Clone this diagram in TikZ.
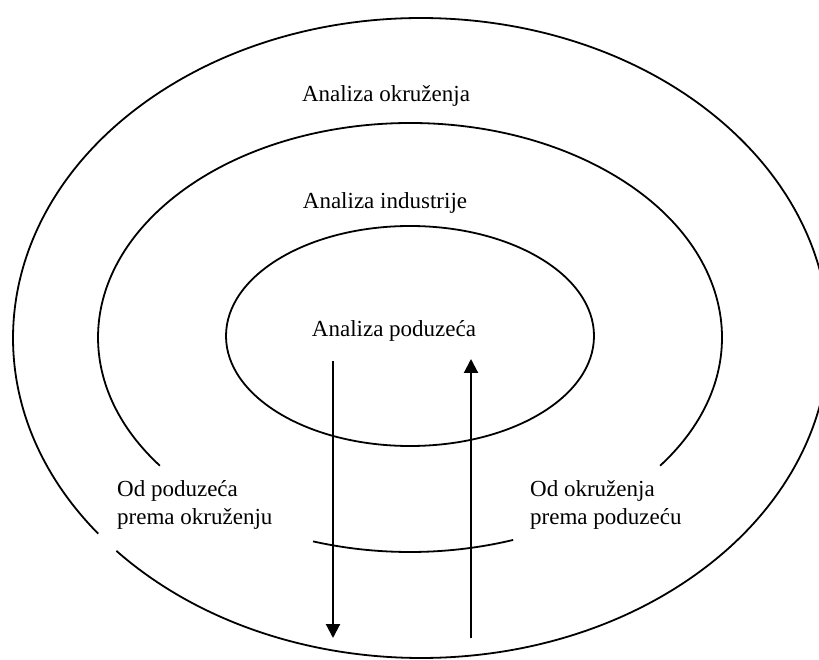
\documentclass[tikz,border=0pt]{standalone}
\usepackage{fontspec}
\setmainfont{Liberation Serif}
\usetikzlibrary{arrows.meta}
\begin{document}
\begin{tikzpicture}[x=1pt,y=1pt,
  ring/.style={line width=1.8pt, draw=black},
  flow/.style={line width=2.1pt, -{Triangle[length=14pt,width=14pt]}},
  lbl/.style={font=\fontsize{23}{28}\selectfont, inner sep=0pt, anchor=base},
  side/.style={font=\fontsize{23}{28}\selectfont, inner sep=0pt, anchor=base west}]
\useasboundingbox (0,0) rectangle (819,659);
\clip (0,0) rectangle (819,659);
% outer ring (with a small gap at lower left)
\draw[ring] (421,321) ++(221.7:408 and 320) arc[start angle=221.7, end angle=577.7, x radius=408, y radius=320];
% middle ring (open at the bottom, plus a short bottom arc)
\draw[ring] (410,321.5) ++(-36.7:312 and 214.5) arc[start angle=-36.7, end angle=216.7, x radius=312, y radius=214.5];
\draw[ring] (410,321.5) ++(251.9:312 and 214.5) arc[start angle=251.9, end angle=289.3, x radius=312, y radius=214.5];
% inner ring
\draw[ring] (410,323) ellipse[x radius=184, y radius=110];
% labels
\node[lbl] (okr) at (386,557) {Analiza okruženja};
\node[lbl] (ind) at (385,450) {Analiza industrije};
\node[lbl] (pod) at (394,322) {Analiza poduzeća};
\node[side] (l1) at (117,163) {Od poduzeća};
\node[side] (l2) at (117,135) {prema okruženju};
\node[side] (r1) at (530,163) {Od okruženja};
\node[side] (r2) at (530,135) {prema poduzeću};
% arrows
\coordinate (aTop) at (333,298);
\coordinate (aBot) at (333,21);
\coordinate (bBot) at (471,21);
\coordinate (bTop) at (471,300);
\draw[flow] (aTop) -- (aBot);
\draw[flow] (bBot) -- (bTop);
\end{tikzpicture}
\end{document}
